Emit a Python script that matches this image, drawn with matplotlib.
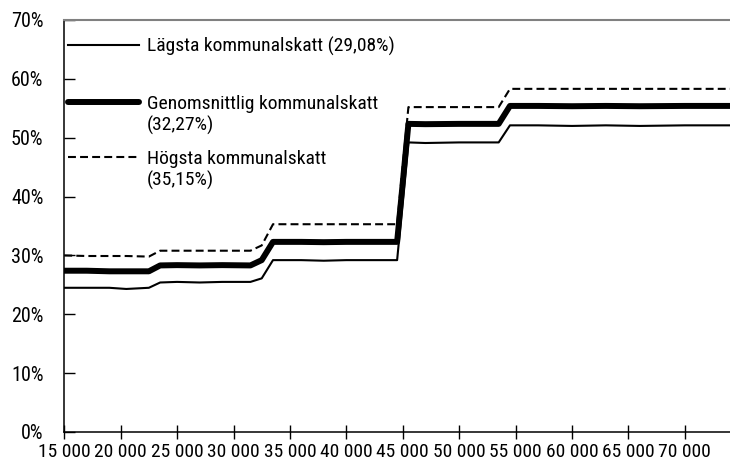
import matplotlib.pyplot as plt
from matplotlib.ticker import FuncFormatter, MultipleLocator

# Marginalskatt vid olika månadsinkomster
inkomst = [15000, 17000, 19000, 20500, 22500, 23500, 25000, 27000, 29000, 31500,
           32500, 33500, 36000, 38000, 40000, 42000, 44500, 45500, 47000, 50000,
           53500, 54500, 57000, 60000, 63000, 66000, 70000, 74000]

lagsta = [24.5, 24.5, 24.5, 24.3, 24.5, 25.4, 25.5, 25.4, 25.5, 25.5,
          26.1, 29.2, 29.2, 29.1, 29.2, 29.2, 29.2, 49.2, 49.1, 49.2,
          49.2, 52.1, 52.1, 52.0, 52.1, 52.0, 52.1, 52.1]

genomsnitt = [27.4, 27.4, 27.3, 27.3, 27.3, 28.3, 28.35, 28.3, 28.35, 28.3,
              29.2, 32.3, 32.3, 32.25, 32.3, 32.3, 32.3, 52.35, 52.3, 52.35,
              52.35, 55.4, 55.4, 55.35, 55.4, 55.35, 55.4, 55.4]

hogsta = [30.0, 29.9, 29.9, 29.9, 29.8, 30.8, 30.8, 30.8, 30.8, 30.8,
          31.7, 35.3, 35.3, 35.3, 35.3, 35.3, 35.3, 55.2, 55.2, 55.2,
          55.2, 58.3, 58.3, 58.3, 58.3, 58.3, 58.3, 58.3]

etiketter = [['Lägsta kommunalskatt (29,08%)'],
             ['Genomsnittlig kommunalskatt', '(32,27%)'],
             ['Högsta kommunalskatt', '(35,15%)']]

plt.rcParams['font.family'] = ['Roboto Condensed', 'DejaVu Sans']

fig = plt.figure(figsize=(7.3, 4.65), dpi=100)
ax = fig.add_axes([0.088, 0.071, 0.912, 0.886])

tunn = dict(color='black', lw=1.5)
tjock = dict(color='black', lw=4.3, solid_capstyle='round')
streck = dict(color='black', lw=1.5, dashes=(3.8, 2))

ax.plot(inkomst, lagsta, **tunn)
ax.plot(inkomst, genomsnitt, **tjock)
ax.plot(inkomst, hogsta, **streck)

ax.set_xlim(15000, 74000)
ax.set_ylim(0, 70)
ax.xaxis.set_major_locator(MultipleLocator(5000))
ax.yaxis.set_major_locator(MultipleLocator(10))
ax.xaxis.set_major_formatter(FuncFormatter(lambda v, p: f'{int(v):,}'.replace(',', ' ') if v <= 70000 else ''))
ax.yaxis.set_major_formatter(FuncFormatter(lambda v, p: f'{int(v)}%'))
ax.tick_params(axis='x', direction='inout', length=10, labelsize=14, pad=3, width=1)
ax.tick_params(axis='y', direction='in', length=8, labelsize=14.5, pad=15, width=1)

ax.spines['right'].set_visible(False)
ax.spines['top'].set_color('#808080')
ax.spines['top'].set_linewidth(1.5)
for s in ['left', 'bottom']:
    ax.spines[s].set_linewidth(1.1)

# förklaring, ritad för hand så att linjen står vid första raden
tr = ax.transAxes
rader_y = [0.939, 0.802, 0.668]
for rader, st, yy in zip(etiketter, [tunn, tjock, streck], rader_y):
    ax.plot([0.006, 0.112], [yy, yy], transform=tr, clip_on=False, **st)
    for i, rad in enumerate(rader):
        ax.text(0.124, yy - 0.017 - i * 0.0534, rad, transform=tr, fontsize=14,
                va='baseline')

fig.savefig('out.png', dpi=100)
